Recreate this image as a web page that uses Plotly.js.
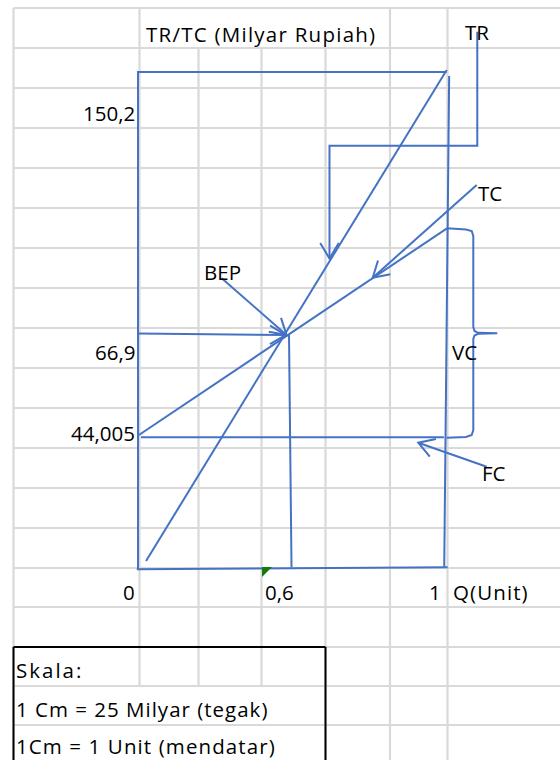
<!DOCTYPE html>
<html><head><meta charset="utf-8">
<script src="https://cdn.plot.ly/plotly-3.0.1.min.js"></script>
<style>html,body{margin:0;padding:0;background:#fff;}#chart{width:560px;height:760px;}</style>
</head><body><div id="chart"></div>
<script>
// ---------- data (Q in unit, value in Milyar Rupiah) ----------
const frameQ = [0, 0, 0.999];
const frameV = [-0.33, 165.33, 165.33];
const frameRightQ = [1.007, 0.991];
const frameRightV = [164.0, 0.44];
const axisQ = [-0.004, 1.002];
const axisV = [-0.43, 0.23];
const trQ = [0.026, 0.999];
const trV = [2.33, 166.0];
const tcQ = [0.003, 1.0];
const tcV = [44.33, 113.23];
const fcQ = [0.0097, 0.990];
const fcV = [43.57, 43.57];
const bepDropQ = [0.4887, 0.4968];
const bepDropV = [77.67, 0.23];
const arrow669Q = [0, 0.4773];
const arrow669V = [78.17, 77.67];
const arrowBepQ = [0.2709, 0.4806];
const arrowBepV = [96.57, 77.67];
const arrowTrQ = [1.098, 1.098, 0.6197, 0.6197];
const arrowTrV = [178.77, 140.77, 140.77, 103.17];
const arrowTcQ = [1.096, 0.7595];
const arrowTcV = [127.67, 96.77];
const arrowFcQ = [1.1285, 0.9071];
const arrowFcV = [33.77, 41.77];
const vcBraceQ = [0.999, 1.0615, 1.080, 1.0851, 1.0851, 1.089, 1.1003, 1.1628, 1.1003, 1.089, 1.0851, 1.0851, 1.080, 1.0615, 0.999];
const vcBraceV = [113.23, 112.83, 112.33, 110.67, 80.33, 79.0, 78.4, 78.23, 78.07, 77.5, 76.33, 46.0, 44.33, 43.67, 43.43];

const yTickLabels = ['150,2', '66,9', '44,005'];
const xTickLabels = ['0', '0,6', '1'];
const curveLabels = ['TR', 'TC', 'BEP', 'VC', 'FC'];
const titleY = 'TR/TC (Milyar Rupiah)';
const titleX = 'Q(Unit)';
const scaleNotes = ['Skala:', '1 Cm = 25 Milyar (tegak)', '1Cm = 1 Unit (mendatar)'];

// ---------- layout geometry ----------
const W = 560, H = 760;
const xRange = [-138 / 309, 422 / 309];
const yRange = [-192 / 3, 568 / 3];
const pxPerQ = W / (xRange[1] - xRange[0]);
const pxPerV = H / (yRange[1] - yRange[0]);
const BLUE = '#4472c4';
const FONT = '"Open Sans", Lato, sans-serif';
const FSIZE = 20.5;

function line(xs, ys) {
  return {type: 'scatter', mode: 'lines', x: xs, y: ys, hoverinfo: 'skip', showlegend: false,
          line: {color: BLUE, width: 2}};
}
// open V arrowhead at the end of a polyline (computed in screen space)
function wings(xs, ys) {
  const n = xs.length;
  const x1 = xs[n - 1], y1 = ys[n - 1], x0 = xs[n - 2], y0 = ys[n - 2];
  let dx = (x0 - x1) * pxPerQ, dy = -(y0 - y1) * pxPerV;
  const L = Math.hypot(dx, dy); dx /= L; dy /= L;
  const len = 18, a = 31 * Math.PI / 180;
  const pts = [a, -a].map(t => {
    const rx = dx * Math.cos(t) - dy * Math.sin(t);
    const ry = dx * Math.sin(t) + dy * Math.cos(t);
    return [x1 + rx * len / pxPerQ, y1 - ry * len / pxPerV];
  });
  return line([pts[0][0], x1, pts[1][0]], [pts[0][1], y1, pts[1][1]]);
}

const traces = [
  line(frameQ, frameV), line(frameRightQ, frameRightV), line(axisQ, axisV),
  line(trQ, trV), line(tcQ, tcV), line(fcQ, fcV), line(bepDropQ, bepDropV),
  line(arrow669Q, arrow669V), wings(arrow669Q, arrow669V),
  line(arrowBepQ, arrowBepV), wings(arrowBepQ, arrowBepV),
  line(arrowTrQ, arrowTrV), wings(arrowTrQ, arrowTrV),
  line(arrowTcQ, arrowTcV), wings(arrowTcQ, arrowTcV),
  line(arrowFcQ, arrowFcV), wings(arrowFcQ, arrowFcV),
  line(vcBraceQ, vcBraceV)
];

// ---------- spreadsheet grid (decoration) ----------
const px = x => x / W, py = y => 1 - y / H;
const gridCols = [13.5, 139.5, 198.5, 261.5, 325.5, 390, 447.5];
const gridRows = [8, 48, 88, 128, 168, 208, 248, 288, 328, 368, 408, 448, 488, 528, 568, 607, 647, 686, 725];
const GRID = '#d9d9d9';
const shapes = [];
function seg(x0, y0, x1, y1, color, width, layer) {
  shapes.push({type: 'line', xref: 'paper', yref: 'paper', x0: px(x0), y0: py(y0), x1: px(x1), y1: py(y1),
               line: {color: color, width: width}, layer: layer || 'below'});
}
gridRows.forEach(r => seg(13.5, r, W, r, GRID, 2.2));
gridCols.forEach((c, i) => {
  const hideTop = (i >= 2 && i <= 4);      // title text overflows these cells
  const hideBottom = (i >= 1 && i <= 3);   // scale notes overflow these cells
  const yStart = hideTop ? 48 : 8;
  const yEnd = hideBottom ? 686 : H;
  seg(c, yStart, c, yEnd, GRID, 2.2);
});
// black border around the scale note
seg(13.5, 647, 325.5, 647, '#000', 2, 'above');
seg(13.5, 647, 13.5, H + 2, '#000', 2, 'above');
seg(325.5, 647, 325.5, H + 2, '#000', 2, 'above');
// green cell-indicator triangle
shapes.push({type: 'path', xref: 'paper', yref: 'paper', layer: 'above',
  path: `M ${px(262)},${py(567)} L ${px(272)},${py(567)} L ${px(262)},${py(577)} Z`,
  fillcolor: '#107c10', line: {width: 0}});

// ---------- texts ----------
const annotations = [];
function txt(t, x, y, anchor) {
  annotations.push({text: t, xref: 'paper', yref: 'paper', x: px(x), y: py(y), xanchor: anchor,
    yanchor: 'middle', showarrow: false, font: {family: FONT, size: FSIZE, color: '#000'}});
}
txt(titleY, 144, 33.5, 'left');
txt(curveLabels[0], 463, 32.5, 'left');
txt(yTickLabels[0], 137, 113.5, 'right');
txt(curveLabels[1], 476, 193, 'left');
txt(curveLabels[2], 202, 272, 'left');
txt(yTickLabels[1], 137, 351.5, 'right');
txt(curveLabels[3], 450, 351.5, 'left');
txt(yTickLabels[2], 137, 432.5, 'right');
txt(curveLabels[4], 480, 472.5, 'left');
txt(xTickLabels[0], 137, 592, 'right');
txt(xTickLabels[1], 263, 592, 'left');
txt(xTickLabels[2], 443, 592, 'right');
txt(titleX, 451, 592, 'left');
txt(scaleNotes[0], 14, 669.5, 'left');
txt(scaleNotes[1], 14, 708.5, 'left');
txt(scaleNotes[2], 14, 745.5, 'left');

// spreadsheet-style loose letter spacing for word labels (left edge kept fixed)
const SPACING = {};
SPACING[titleY] = 1.25;
SPACING[titleX] = 1.1;
SPACING[scaleNotes[0]] = 2;
SPACING[scaleNotes[1]] = 1.0;
SPACING[scaleNotes[2]] = 1.1;

const layout = {
  width: W, height: H, margin: {l: 0, r: 0, t: 0, b: 0, pad: 0}, autosize: false,
  paper_bgcolor: '#fff', plot_bgcolor: 'rgba(0,0,0,0)', showlegend: false,
  xaxis: {range: xRange, visible: false, fixedrange: true},
  yaxis: {range: yRange, visible: false, fixedrange: true},
  shapes: shapes, annotations: annotations
};
Plotly.newPlot('chart', traces, layout, {displayModeBar: false, staticPlot: true}).then(() => {
  document.querySelectorAll('#chart .annotation-text').forEach(el => {
    const sp = SPACING[el.textContent];
    if (!sp) return;
    const b0 = el.getBBox();
    el.style.letterSpacing = sp + 'px';
    const b1 = el.getBBox();
    const dx = b0.x - b1.x;
    const prev = el.getAttribute('transform') || '';
    el.setAttribute('transform', 'translate(' + dx + ',0) ' + prev);
  });
});
</script>
</body></html>
